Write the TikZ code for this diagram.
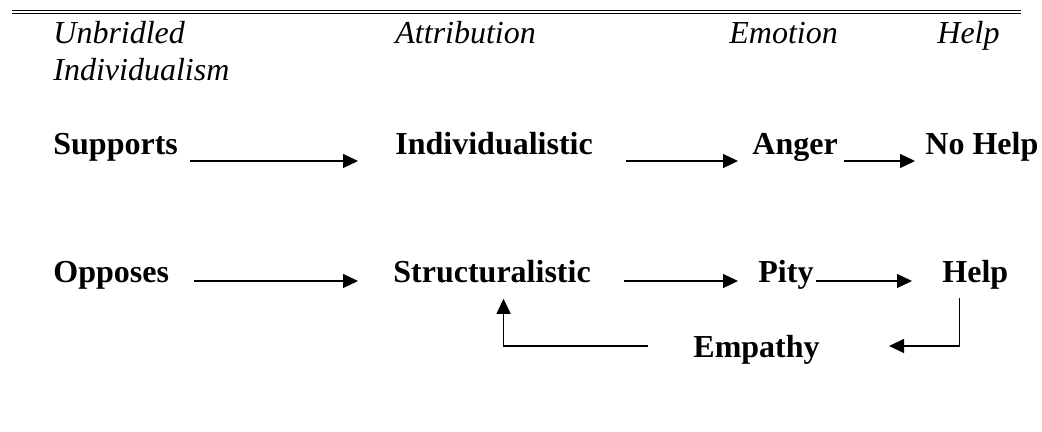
\documentclass[tikz,border=0pt]{standalone}
\usepackage{fontspec}
\setmainfont{Liberation Serif}
\usetikzlibrary{arrows.meta}
\begin{document}
\begin{tikzpicture}
[
x=0.5pt, y=-0.5pt,
hdr/.style={inner sep=0, anchor=base west, font=\fontsize{16}{18.5}\selectfont\itshape},
lbl/.style={inner sep=0, anchor=base west, font=\fontsize{16}{18.5}\selectfont\bfseries},
arr/.style={line width=0.6pt, -{Triangle[length=7.5pt,width=7pt]}}
]
\useasboundingbox (0,0) rectangle (1042,432);
%Rule
\draw[line width=0.6pt] (12,10.5) -- (1021,10.5);
\draw[line width=0.4pt] (12,13.5) -- (1021,13.5);
%Headers
\node[hdr] at(53,44)		(unb) {Unbridled};
\node[hdr] at(53,81)		(indiv) {Individualism};
\node[hdr] at(395,44)		(att) {Attribution};
\node[hdr] at(729,44)		(emo) {Emotion};
\node[hdr] at(937,44)		(hlp) {Help};
%Nodes
\node[lbl] at(53,155)		(sup) {Supports};
\node[lbl] at(395,155)		(ind) {Individualistic};
\node[lbl] at(752,155)		(ang) {Anger};
\node[lbl] at(925,155)		(noh) {No Help};
\node[lbl] at(53,283)		(opp) {Opposes};
\node[lbl] at(393,283)		(str) {Structuralistic};
\node[lbl] at(758,283)		(pit) {Pity};
\node[lbl] at(942,283)		(help) {Help};
\node[lbl] at(693,357)		(emp) {Empathy};
%Arrows
\draw[arr] ([xshift=6pt,yshift=-3pt]sup.base east) -- ([xshift=-18.5pt,yshift=-3pt]ind.base west);
\draw[arr] ([xshift=16.5pt,yshift=-3pt]ind.base east) -- ([xshift=-7pt,yshift=-3pt]ang.base west);
\draw[arr] ([xshift=3pt,yshift=-3pt]ang.base east) -- ([xshift=-5pt,yshift=-3pt]noh.base west);
\draw[arr] ([xshift=12.5pt,yshift=1pt]opp.base east) -- ([xshift=-17.5pt,yshift=1pt]str.base west);
\draw[arr] ([xshift=16.5pt,yshift=1pt]str.base east) -- ([xshift=-10pt,yshift=1pt]pit.base west);
\draw[arr] ([xshift=1pt,yshift=1pt]pit.base east) -- ([xshift=-15pt,yshift=1pt]help.base west);
\draw[arr] ([xshift=-7.75pt,yshift=-4pt]help.south) |- ([xshift=34.5pt,yshift=5.5pt]emp.base east);
\draw[arr] ([xshift=-22.5pt,yshift=5.5pt]emp.base west) -| ([xshift=5.75pt,yshift=-7.5pt]str.south);
\end{tikzpicture}
\end{document}
